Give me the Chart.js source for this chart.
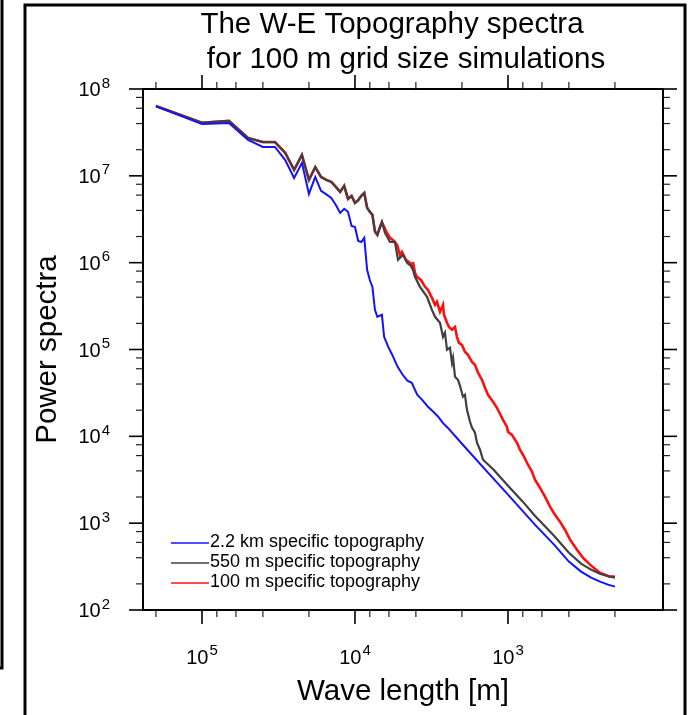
<!DOCTYPE html>
<html><head><meta charset="utf-8">
<script src="https://cdn.jsdelivr.net/npm/chart.js@4.4.0/dist/chart.umd.min.js"></script>
<style>html,body{margin:0;padding:0;background:#fff;}#wrap{width:691px;height:715px;}</style>
</head><body><div id="wrap"><canvas id="c" width="691" height="715"></canvas></div>
<script>
// ---------------- data ----------------
const titleLines = ["The W-E Topography spectra", "for 100 m grid size simulations"];
const xAxisTitle = "Wave length [m]";
const yAxisTitle = "Power spectra";
const seriesNames = ["2.2 km specific topography", "550 m specific topography", "100 m specific topography"];
const seriesColors = ["#1212ff", "#404040", "#ff1010"];
const xMajorExp = [5, 4, 3];
const xMinorDecades = [2, 3, 4, 5];
const yMajorExp = [2, 3, 4, 5, 6, 7, 8];
const yMinorDecades = [2, 3, 4, 5, 6, 7];
const minorMult = [2, 4, 6, 8];

// wavelength [m] and power, 2.2 km topography
const blueWave = [200000,100000,66667,50000,40000,33333,28571,25000,22222,20000,18182,16667,15385,14286,13333,12500,11765,11111,10526,10000,9524,9091,8696,8333,8000,7692,7407,7143,6897,6667,6452,6061,5714,5263,4878,4545,4255,3922,3636,3333,3077,2857,2667,2469,2000,1333,1000,667,500,400,333,286,250,222,200];
const blueSpec = [6.31e7,3.95e7,4.06e7,2.59e7,2.15e7,2.15e7,1.52e7,9.46e6,1.41e7,6.19e6,9.70e6,6.70e6,6.11e6,5.57e6,4.62e6,3.74e6,4.17e6,3.85e6,2.65e6,2.58e6,1.78e6,1.73e6,1.93e6,8.26e5,6.31e5,5.25e5,2.86e5,2.38e5,2.45e5,2.51e5,1.40e5,1.07e5,8.71e4,6.31e4,5.12e4,4.37e4,4.14e4,3.01e4,2.63e4,2.19e4,1.92e4,1.68e4,1.43e4,1.25e4,8.22e3,3.72e3,2.13e3,962,566,361,277,236,212,196,186];

// 550 m topography
const grayWave = [200000,100000,66667,50000,40000,33333,28571,25000,22222,20000,18182,16667,15385,14286,13333,12500,11765,11111,10526,10000,9524,9091,8696,8333,8000,7692,7407,7143,6897,6667,
  6368,5902,5479,5234,4856,4571,4236,4055,3758,3383,3140,2999,2782,2659,2582,2503,2393,2323,2286,2220,2123,2059,1968,1911,1854,1771,1719,1643,1595,1524,1456,1241,1000,800,667,500,400,333,287,251,222,200];
const graySpec = [6.37e7,4.09e7,4.29e7,2.73e7,2.45e7,2.45e7,1.84e7,1.17e7,1.74e7,8.97e6,1.26e7,9.70e6,8.97e6,8.51e6,7.45e6,6.53e6,7.66e6,5.42e6,5.87e6,4.88e6,5.25e6,5.89e6,6.35e6,4.28e6,3.85e6,3.55e6,2.29e6,2.09e6,2.51e6,2.94e6,
  2.20e6,1.73e6,1.73e6,1.08e6,1.23e6,9.95e5,8.95e5,6.87e5,5.27e5,4.04e5,2.86e5,2.38e5,2.03e5,1.40e5,1.56e5,9.93e4,1.05e5,7.03e4,8.02e4,4.85e4,4.48e4,3.82e4,2.86e4,3.01e4,2.02e4,1.47e4,1.26e4,1.10e4,8.43e3,7.01e3,5.38e3,4.13e3,2.70e3,1.77e3,1.22e3,718,457,342,292,262,245,236];

// 100 m topography
const redWave = [200000,100000,66667,50000,40000,33333,28571,25000,22222,20000,18182,16667,15385,14286,13333,12500,11765,11111,10526,10000,9524,9091,8696,8333,8000,7692,7407,7143,6897,6667,
  6180,5902,5559,5309,5082,4932,4645,4375,4236,4178,4055,3936,3707,3484,3334,3140,2999,2911,2782,2659,2619,2503,2431,2323,2220,2155,2092,2000,1911,1826,1719,1643,1570,1479,1413,1351,1253,1180,1128,1078,1016,1000,942,873,835,798,740,697,666,618,573,531,493,457,424,393,354,324,291,251,215,200];
const redSpec = [6.37e7,4.09e7,4.29e7,2.73e7,2.45e7,2.45e7,1.84e7,1.17e7,1.74e7,8.97e6,1.26e7,9.70e6,8.97e6,8.51e6,7.45e6,6.53e6,7.66e6,5.42e6,5.87e6,4.88e6,5.25e6,5.89e6,6.35e6,4.28e6,3.85e6,3.55e6,2.29e6,2.09e6,2.51e6,2.94e6,
  2.20e6,1.93e6,1.78e6,1.60e6,1.23e6,1.33e6,1.08e6,9.95e5,8.71e5,1.02e6,7.64e5,6.87e5,6.34e5,5.27e5,4.86e5,3.94e5,3.27e5,3.54e5,2.72e5,3.27e5,2.51e5,2.03e5,1.82e5,1.69e5,1.82e5,1.40e5,1.19e5,1.13e5,9.41e4,8.69e4,7.21e4,6.67e4,5.40e4,4.48e4,3.62e4,3.01e4,2.50e4,2.13e4,1.82e4,1.55e4,1.29e4,1.13e4,1.04e4,8.43e3,7.01e3,6.14e3,4.71e3,3.92e3,3.17e3,2.56e3,2.02e3,1.55e3,1.25e3,1.04e3,841,646,495,401,333,269,242,242];

const xMin = 97, xMax = 243000, yMin = 100, yMax = 1e8;

// ---------------- chart ----------------
function pts(w, s) { return w.map((v, i) => ({ x: v, y: s[i] })); }
const FONT = '"Liberation Sans", Arial, Helvetica, sans-serif';

const decor = {
  id: 'decor',
  afterDraw(chart) {
    const ctx = chart.ctx, a = chart.chartArea;
    const xs = chart.scales.x, ys = chart.scales.y;
    ctx.save();
    ctx.strokeStyle = '#000';
    ctx.fillStyle = '#000';
    // outer frames
    ctx.lineWidth = 3;
    ctx.beginPath();
    ctx.moveTo(25, 715); ctx.lineTo(25, 5); ctx.lineTo(685, 5); ctx.lineTo(685, 715);
    ctx.stroke();
    ctx.beginPath();
    ctx.moveTo(2, 0); ctx.lineTo(2, 668); ctx.lineTo(0, 668);
    ctx.stroke();
    // plot box
    ctx.lineWidth = 2;
    ctx.strokeRect(a.left, a.top, a.right - a.left, a.bottom - a.top);
    const tick = (x1, y1, x2, y2, w, c) => { ctx.strokeStyle = c; ctx.lineWidth = w; ctx.beginPath(); ctx.moveTo(x1, y1); ctx.lineTo(x2, y2); ctx.stroke(); };
    const MAJ = 14, MIN = 7;
    // x ticks
    for (const e of xMajorExp) {
      const px = xs.getPixelForValue(Math.pow(10, e));
      tick(px, a.bottom, px, a.bottom + MAJ, 1.6, '#000');
      tick(px, a.top, px, a.top - MAJ, 1.6, '#000');
    }
    for (const e of xMinorDecades) for (const m of minorMult) {
      const v = m * Math.pow(10, e);
      if (v <= xMin || v >= xMax) continue;
      const px = xs.getPixelForValue(v);
      tick(px, a.bottom, px, a.bottom + MIN, 1.2, '#222');
      tick(px, a.top, px, a.top - MIN, 1.2, '#222');
    }
    // y ticks
    for (const e of yMajorExp) {
      const py = ys.getPixelForValue(Math.pow(10, e));
      tick(a.left, py, a.left - MAJ, py, 1.6, '#000');
      tick(a.right, py, a.right + MAJ, py, 1.6, '#000');
    }
    for (const e of yMinorDecades) for (const m of minorMult) {
      const py = ys.getPixelForValue(m * Math.pow(10, e));
      tick(a.left, py, a.left - MIN, py, 1.2, '#222');
      tick(a.right, py, a.right + MIN, py, 1.2, '#222');
    }
    // tick labels
    const baseF = '20px ' + FONT, supF = '15px ' + FONT;
    ctx.fillStyle = '#000';
    ctx.textBaseline = 'alphabetic';
    ctx.textAlign = 'left';
    for (const e of xMajorExp) {
      const px = xs.getPixelForValue(Math.pow(10, e));
      ctx.font = baseF; const w1 = ctx.measureText('10').width;
      ctx.font = supF; const w2 = ctx.measureText(String(e)).width;
      const x0 = px - (w1 + w2 + 1) / 2;
      ctx.font = baseF; ctx.fillText('10', x0, 663.5);
      ctx.font = supF; ctx.fillText(String(e), x0 + w1 + 1, 655);
    }
    for (const e of yMajorExp) {
      const py = ys.getPixelForValue(Math.pow(10, e));
      ctx.font = baseF; const w1 = ctx.measureText('10').width;
      ctx.font = supF; const w2 = ctx.measureText(String(e)).width;
      const x0 = 110 - (w1 + w2 + 1);
      ctx.font = baseF; ctx.fillText('10', x0, py + 7);
      ctx.font = supF; ctx.fillText(String(e), x0 + w1 + 1, py - 1.5);
    }
    // titles
    ctx.font = '29.5px ' + FONT;
    ctx.textAlign = 'center';
    ctx.fillText(titleLines[0], 392, 33);
    ctx.fillText(titleLines[1], 406, 68);
    ctx.fillText(xAxisTitle, (a.left + a.right) / 2, 700);
    ctx.save();
    ctx.translate(56, (a.top + a.bottom) / 2);
    ctx.rotate(-Math.PI / 2);
    ctx.fillText(yAxisTitle, 0, 0);
    ctx.restore();
    // legend
    ctx.font = '18px ' + FONT;
    ctx.textAlign = 'left';
    const ly = [543, 563, 583];
    for (let i = 0; i < 3; i++) {
      ctx.strokeStyle = seriesColors[i];
      ctx.lineWidth = 1.5;
      ctx.beginPath(); ctx.moveTo(171, ly[i]); ctx.lineTo(209, ly[i]); ctx.stroke();
      ctx.fillStyle = '#000';
      ctx.fillText(seriesNames[i], 210, ly[i] + 4);
    }
    ctx.restore();
  }
};

new Chart(document.getElementById('c'), {
  type: 'line',
  data: {
    datasets: [
      { label: seriesNames[0], data: pts(blueWave, blueSpec), borderColor: seriesColors[0], borderWidth: 2 },
      { label: seriesNames[1], data: pts(grayWave, graySpec), borderColor: seriesColors[1], borderWidth: 2.2 },
      { label: seriesNames[2], data: pts(redWave, redSpec), borderColor: seriesColors[2], borderWidth: 2.6 }
    ]
  },
  options: {
    responsive: false,
    animation: false,
    devicePixelRatio: 1,
    layout: { padding: { left: 143, right: 28, top: 89, bottom: 105 } },
    elements: { point: { radius: 0 }, line: { tension: 0 } },
    plugins: { legend: { display: false }, title: { display: false }, tooltip: { enabled: false } },
    scales: {
      x: { type: 'logarithmic', reverse: true, min: xMin, max: xMax, display: false },
      y: { type: 'logarithmic', min: yMin, max: yMax, display: false }
    }
  },
  plugins: [decor]
});
</script>
</body></html>
